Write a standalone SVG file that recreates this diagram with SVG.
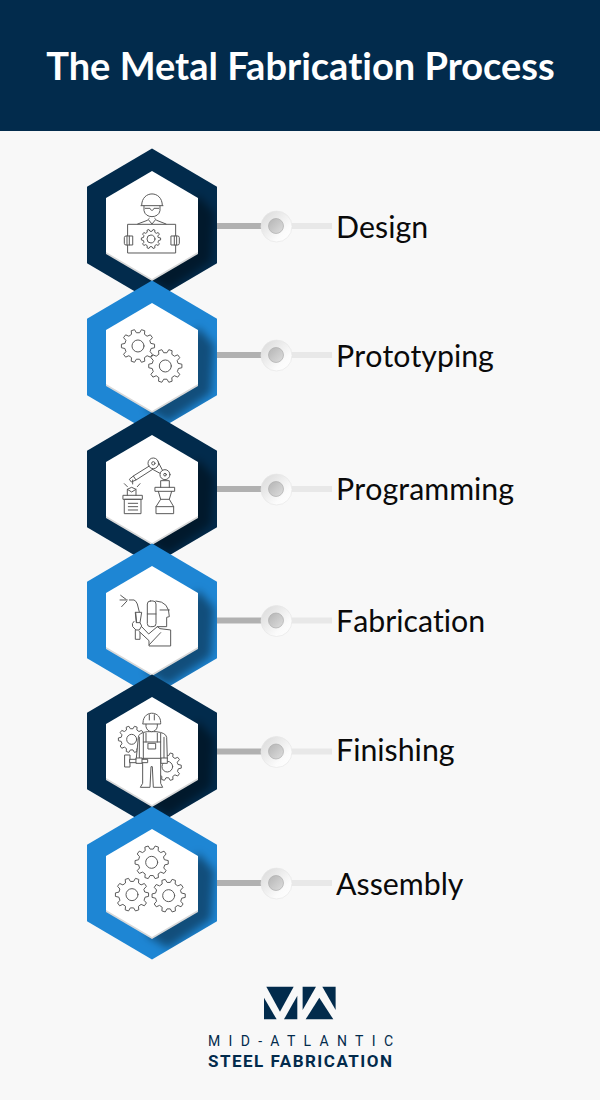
<svg xmlns="http://www.w3.org/2000/svg" width="600" height="1100" viewBox="0 0 600 1100">
<style>
.title{font:700 38px Lato,"Liberation Sans",sans-serif;fill:#fff;font-variant-ligatures:none}
.label{font:400 30.300px Lato,"Liberation Sans",sans-serif;fill:#0a0a0a;font-variant-ligatures:none;font-kerning:none}
.navy{fill:#022b4c}
.blue{fill:#1e86d4}
.bar1{fill:#b1b1b1}
.bar2{fill:#e8e8e8}
.ko{stroke:#e6e6e6;stroke-width:.7;fill:url(#kn)}
.kc{stroke:#adadad;stroke-width:.7;fill:url(#kc)}
.ic *{fill:none;stroke:#5a5a5a;stroke-width:1;vector-effect:non-scaling-stroke;stroke-linejoin:round;stroke-linecap:round}
.ic .w{fill:#fff}
.logo1{font:400 14px Roboto,"Liberation Sans",sans-serif;fill:#022b4c}
.logo2{font:700 17px Roboto,"Liberation Sans",sans-serif;fill:#022b4c}
</style>
<defs>
<polygon id="outer" points="0,-76.5 65,-38.3 65,38.3 0,76.5 -65,38.3 -65,-38.3"/>
<polygon id="inner" points="0,-54 46,-27 46,27 0,54 -46,27 -46,-27"/>
<clipPath id="oc"><polygon points="0,-76.5 65,-38.3 65,38.3 0,76.5 -65,38.3 -65,-38.3"/></clipPath>
<filter id="bl" x="-30%" y="-30%" width="160%" height="160%"><feGaussianBlur stdDeviation="4.500"/></filter>
<linearGradient id="kn" x1="0" y1="0" x2="1" y2="1"><stop offset="0" stop-color="#d8d8d8"/><stop offset=".7" stop-color="#fbfbfb"/><stop offset="1" stop-color="#fff"/></linearGradient>
<linearGradient id="kc" x1="0" y1="0" x2="1" y2="1"><stop offset="0" stop-color="#b4b4b4"/><stop offset="1" stop-color="#dedede"/></linearGradient>
<g id="hexbase">
<g clip-path="url(#oc)"><polygon points="46,-30 62,-12 59,36 16,65 -6,52" fill="#000" fill-opacity=".42" filter="url(#bl)"/></g>
<polygon points="0,-52 46,-25 46,29 0,56 -46,29 -46,-25" fill="#d9d9d9"/>
<use href="#inner" fill="#fff"/>
</g>
<path id="gear" vector-effect="non-scaling-stroke" d="M78.5-15.3L99.5-10.5L99.5 10.5L78.5 15.3L72.5 33.8L86.6 50L74.3 66.9L54.6 58.5L38.8 70L40.7 91.4L20.8 97.8L9.7 79.4L-9.700 79.4L-20.8 97.8L-40.7 91.4L-38.8 70L-54.6 58.5L-74.3 66.9L-86.6 50L-72.5 33.8L-78.5 15.3L-99.5 10.5L-99.5-10.5L-78.5-15.3L-72.5-33.8L-86.6-50L-74.3-66.9L-54.6-58.5L-38.8-70L-40.7-91.4L-20.8-97.8L-9.7-79.4L9.7-79.4L20.8-97.8L40.7-91.4L38.8-70L54.6-58.5L74.3-66.9L86.6-50L72.5-33.8Z"/>
</defs>
<rect id="background" width="600" height="1100" fill="#f8f8f8"/>
<g id="header"><rect width="600" height="131" class="navy"/><text class="title" x="300.500" y="80" text-anchor="middle">The Metal Fabrication Process</text></g>

<g id="connectors">
<g><rect class="bar1" x="217" y="223" width="45" height="6"/><rect class="bar2" x="291" y="223" width="41" height="6"/><circle class="ko" cx="276.5" cy="226.5" r="15.5"/><circle class="kc" cx="276" cy="226" r="7.5"/></g>
<g><rect class="bar1" x="217" y="352" width="45" height="6"/><rect class="bar2" x="291" y="352" width="41" height="6"/><circle class="ko" cx="276.5" cy="355.5" r="15.5"/><circle class="kc" cx="276" cy="355" r="7.5"/></g>
<g><rect class="bar1" x="217" y="486" width="45" height="6"/><rect class="bar2" x="291" y="486" width="41" height="6"/><circle class="ko" cx="276.5" cy="489.5" r="15.5"/><circle class="kc" cx="276" cy="489" r="7.5"/></g>
<g><rect class="bar1" x="217" y="617.500" width="45" height="6"/><rect class="bar2" x="291" y="617.500" width="41" height="6"/><circle class="ko" cx="276.5" cy="621" r="15.5"/><circle class="kc" cx="276" cy="620.5" r="7.5"/></g>
<g><rect class="bar1" x="217" y="748.500" width="45" height="6"/><rect class="bar2" x="291" y="748.500" width="41" height="6"/><circle class="ko" cx="276.5" cy="752" r="15.5"/><circle class="kc" cx="276" cy="751.5" r="7.5"/></g>
<g><rect class="bar1" x="217" y="880" width="45" height="6"/><rect class="bar2" x="291" y="880" width="41" height="6"/><circle class="ko" cx="276.5" cy="883.500" r="15.5"/><circle class="kc" cx="276" cy="883" r="7.5"/></g>
</g>

<g id="node-design">
<g transform="translate(152,225)"><use href="#outer" class="navy"/><use href="#hexbase"/></g>
<g class="ic" transform="translate(70,140) scale(.3333)">
<rect x="174" y="253" width="143" height="86"/>
<path d="M215 196C215 150 277 150 277 196M213 197H279M222 198V212C226 236 266 236 270 212V198M226 205H240L244 211M266 205H252L248 211"/>
<path d="M203 252L232 241L238 235M288 252L260 241L254 235M236 240L246 252L256 240"/>
<path class="w" d="M187 288H168Q163 288 163 293V310Q163 315 168 315H187ZM304 288H323Q328 288 328 293V310Q328 315 323 315H304Z"/>
<path d="M171 288V315M178 288V315M320 288V315M313 288V315"/>
<use href="#gear" transform="translate(243,297) scale(.29)"/><circle cx="243" cy="297" r="12"/>
</g>
<text class="label" x="336" y="238">Design</text>
</g>

<g id="node-prototyping">
<g transform="translate(152,357)"><use href="#outer" class="blue"/><use href="#hexbase"/></g>
<g class="ic" transform="translate(70,140) scale(.3333)">
<use href="#gear" transform="translate(204,618) scale(.5)"/><circle cx="204" cy="618" r="18"/>
<use class="w" href="#gear" transform="translate(286,678) scale(.5)"/><circle cx="286" cy="678" r="18"/>
</g>
<text class="label" x="336" y="367">Prototyping</text>
</g>

<g id="node-programming">
<g transform="translate(152,489)"><use href="#outer" class="navy"/><use href="#hexbase"/></g>
<g class="ic" transform="translate(70,410) scale(.3333)">
<rect x="160" y="256" width="57" height="12"/><rect x="164" y="268" width="49" height="43"/>
<path d="M175 280H203M175 290H203M175 300H203"/>
<path d="M172 256V238L185 232L198 238V256M172 238L185 246L198 238M163 221L172 230M188 210V222M210 221L202 230"/>
<rect x="256" y="232" width="58" height="12"/>
<path d="M265 244L272 268L258 290V311H311V290L298 268L305 244M258 290H311M272 268H298"/>
<path d="M272 232V212H298V232M264 155L277 180M246 177L270 190M238 168L190 198L198 210L248 178M190 198L178 208L184 216L198 210"/>
<circle cx="250" cy="160" r="16"/><circle cx="250" cy="160" r="5"/>
<circle cx="285" cy="194" r="15"/><circle cx="285" cy="194" r="4"/>
</g>
<text class="label" x="336" y="500">Programming</text>
</g>

<g id="node-fabrication">
<g transform="translate(152,620)"><use href="#outer" class="blue"/><use href="#hexbase"/></g>
<g class="ic" transform="translate(70,410) scale(.3333)">
<path d="M150 570H172M152 556L168 568M155 590L170 574M178 570H192Q198 572 202 582L208 606"/>
<path d="M197 607H215L210 638H200ZM197 607L200 638"/>
<path d="M192 634Q184 640 188 650L198 660H208L215 648L210 638M196 660V688H210V668"/>
<path d="M258 573Q298 575 298 620L290 622V650H262"/>
<rect x="232" y="573" width="26" height="77" rx="9"/><path d="M232 612H258M270 600H298"/>
<path d="M215 650L236 672L262 650L270 656L302 660V708H237V692L207 664M272 668L238 704"/>
</g>
<text class="label" x="336" y="632">Fabrication</text>
</g>

<g id="node-finishing">
<g transform="translate(152,751)"><use href="#outer" class="navy"/><use href="#hexbase"/></g>
<g class="ic" transform="translate(70,680) scale(.3333)">
<use href="#gear" transform="translate(185,178) scale(.4)"/><circle cx="185" cy="178" r="15"/>
<use href="#gear" transform="translate(292,260) scale(.42)"/><circle cx="292" cy="260" r="16"/>
<path class="w" d="M205 172Q205 158 232 155H258Q288 158 290 172L292 236H272V310L278 322H250L247 260H243L240 322H211L218 310V236H200Z"/>
<path class="w" d="M219 128C219 90 272 90 272 128V132H219ZM228 133V140C232 160 258 160 262 140V133"/>
<path d="M238 104V120M253 104V120"/>
<path d="M220 160V236M272 160V236M220 186H272M228 160V186M262 160V186M218 235H272M208 172V236M282 172V236"/>
<rect class="w" x="235" y="190" width="22" height="17"/>
<rect class="w" x="165" y="225" width="15" height="36"/><rect class="w" x="180" y="238" width="53" height="10"/>
<path class="w" d="M199 234H216V250H199ZM274 234H292V250H274Z"/>
</g>
<text class="label" x="336" y="761">Finishing</text>
</g>

<g id="node-assembly">
<g transform="translate(152,883)"><use href="#outer" class="blue"/><use href="#hexbase"/></g>
<g class="ic" transform="translate(70,680) scale(.3333)">
<use href="#gear" transform="translate(245,547) scale(.5)"/><circle cx="245" cy="547" r="18"/>
<use href="#gear" transform="translate(186,644) scale(.5)"/><circle cx="186" cy="644" r="18"/>
<use href="#gear" transform="translate(296,647) scale(.5)"/><circle cx="296" cy="647" r="18"/>
</g>
<text class="label" x="336" y="895">Assembly</text>
</g>

<g id="logo">
<g class="navy" transform="translate(190,975) scale(.3333)">
<polygon points="229,35 311,35 270,110"/><polygon points="222,68 260,133 222,133"/><polygon points="322,62 322,133 282,133"/>
<polygon points="338,35 378,35 338,105"/><polygon points="388,68 430,133 347,133"/><polygon points="397,35 437,35 437,105"/>
</g>
<text class="logo1" x="208" y="1046" textLength="185" lengthAdjust="spacing">MID-ATLANTIC</text>
<text class="logo2" x="208" y="1066.500" textLength="184" lengthAdjust="spacing">STEEL FABRICATION</text>
</g>
</svg>
